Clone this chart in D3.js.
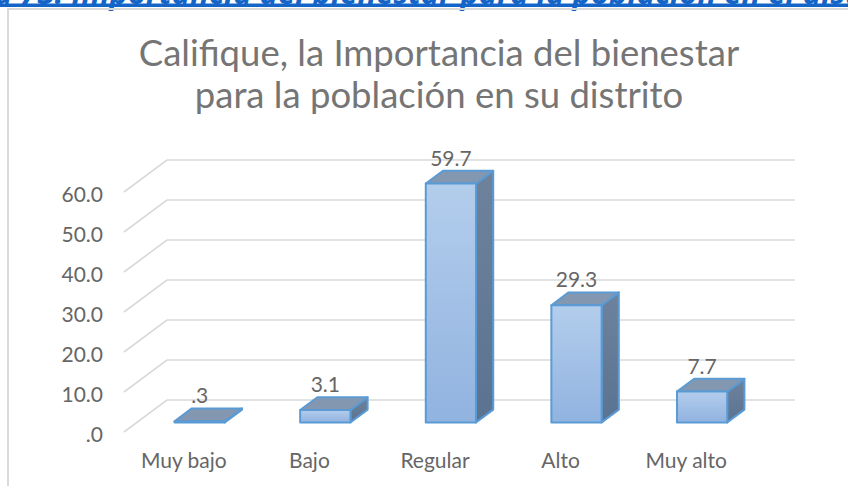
<!DOCTYPE html>
<html>
<head>
<meta charset="utf-8">
<script src="https://cdn.jsdelivr.net/npm/d3@7"></script>
<style>
  body { margin: 0; background: #fff; }
  svg { display: block; }
</style>
</head>
<body>
<svg id="chart" width="848" height="486"></svg>
<script>
// chart values
const categories = ["Muy bajo", "Bajo", "Regular", "Alto", "Muy alto"];
const values = [0.3, 3.1, 59.7, 29.3, 7.7];
const yTicks = [0, 10, 20, 30, 40, 50, 60];
const titleLines = ["Califique, la Importancia del bienestar", "para la población en su distrito"];
const heading = "a 73. Importancia del bienestar para la población en el distrito";

const svg = d3.select("#chart");
const width = +svg.attr("width");
const height = +svg.attr("height");

// front plane of the 3D box and the depth vector going back
const plotLeft = 124, plotRight = 752;
const depth = [43, -32];
const barFront = 0.3, barBack = 0.7; // bars sit in the middle of the depth

const x = d3.scaleBand().domain(categories).range([plotLeft, plotRight])
  .paddingInner(0.6).paddingOuter(0.3);
const y = d3.scaleLinear().domain([0, 60]).range([432, 192]);

// point at horizontal pos px, value v, depth fraction f
const P = (px, v, f) => [px + f * depth[0], y(v) + f * depth[1]];

const fmt = d => d3.format(".1f")(d).replace(/^0\./, ".");

// heading of the page above the chart (cut at the top)
svg.append("text")
  .attr("x", -6).attr("y", 3.5)
  .attr("font-family", "'Open Sans', sans-serif")
  .attr("font-size", 31).attr("font-weight", "bold").attr("font-style", "italic")
  .attr("fill", "#1565C8")
  .text(heading);
svg.append("rect").attr("x", 0).attr("y", 3.5).attr("width", width).attr("height", 3.5)
  .attr("fill", "#1565C8");

// chart frame
svg.append("path")
  .attr("d", `M8,${height} L8,9 L${width},9`)
  .attr("fill", "none").attr("stroke", "#d9d9d9").attr("stroke-width", 2);

// title
svg.append("text")
  .attr("x", 439).attr("y", 66)
  .attr("text-anchor", "middle")
  .attr("font-family", "Lato, sans-serif").attr("font-size", 36.5)
  .attr("fill", "#757575")
  .selectAll("tspan").data(titleLines).join("tspan")
  .attr("x", 439).attr("dy", (d, i) => i === 0 ? 0 : 42)
  .text(d => d);

// gridlines in perspective
const line = d3.line();
svg.append("g").selectAll("path").data(yTicks).join("path")
  .attr("d", t => line([P(plotLeft, t, 0), P(plotLeft, t, 1), P(plotRight, t, 1)]))
  .attr("fill", "none").attr("stroke", "#d9d9d9").attr("stroke-width", 1.6);

// y axis labels
const yAxis = svg.append("g").attr("transform", "translate(103,3)")
  .call(d3.axisLeft(y).tickValues(yTicks).tickSize(0).tickPadding(0).tickFormat(fmt));
yAxis.select(".domain").remove();
yAxis.selectAll("text").attr("font-family", "Lato, sans-serif").attr("font-size", 21).attr("fill", "#666666");

// x axis labels
const xAxis = svg.append("g").attr("transform", "translate(-3,453)")
  .call(d3.axisBottom(x).tickSize(0).tickPadding(0));
xAxis.select(".domain").remove();
xAxis.selectAll("text").attr("font-family", "Lato, sans-serif").attr("font-size", 21).attr("fill", "#666666");

// gradients for the faces
const defs = svg.append("defs");
const gFront = defs.append("linearGradient").attr("id", "front").attr("x1", 0).attr("y1", 0).attr("x2", 0).attr("y2", 1);
gFront.append("stop").attr("offset", "0%").attr("stop-color", "#B3CDEC");
gFront.append("stop").attr("offset", "100%").attr("stop-color", "#91B3E0");
const gSide = defs.append("linearGradient").attr("id", "side").attr("x1", 0).attr("y1", 0).attr("x2", 0).attr("y2", 1);
gSide.append("stop").attr("offset", "0%").attr("stop-color", "#6E829C");
gSide.append("stop").attr("offset", "100%").attr("stop-color", "#5A7391");

const bars = svg.append("g").selectAll("g").data(values).join("g");
const faceStyle = sel => sel.attr("stroke", "#5B9BD5").attr("stroke-width", 2).attr("stroke-linejoin", "round");

// side face
bars.append("path")
  .attr("d", (v, i) => {
    const r = x(categories[i]) + x.bandwidth();
    return line([P(r, 0, barFront), P(r, 0, barBack), P(r, v, barBack), P(r, v, barFront)]) + "Z";
  })
  .attr("fill", "url(#side)").call(faceStyle);
// top face
bars.append("path")
  .attr("d", (v, i) => {
    const l = x(categories[i]), r = l + x.bandwidth();
    return line([P(l, v, barFront), P(r, v, barFront), P(r, v, barBack), P(l, v, barBack)]) + "Z";
  })
  .attr("fill", "#8497B0").call(faceStyle);
// front face
bars.append("path")
  .attr("d", (v, i) => {
    const l = x(categories[i]), r = l + x.bandwidth();
    return line([P(l, 0, barFront), P(r, 0, barFront), P(r, v, barFront), P(l, v, barFront)]) + "Z";
  })
  .attr("fill", "url(#front)").call(faceStyle);

// data labels
bars.append("text")
  .attr("x", (v, i) => P(x(categories[i]) + x.bandwidth() / 2, v, barFront)[0])
  .attr("y", (v, i) => P(0, v, barBack)[1] - 5)
  .attr("text-anchor", "middle")
  .attr("font-family", "Lato, sans-serif").attr("font-size", 21).attr("fill", "#666666")
  .text(fmt);
</script>
</body>
</html>
